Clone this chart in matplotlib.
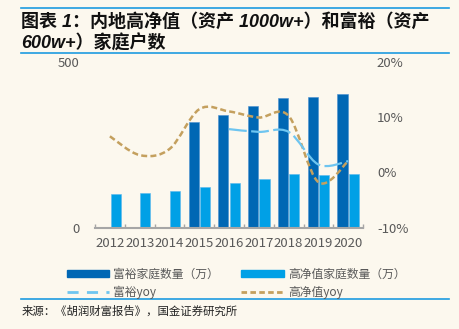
import numpy as np
import matplotlib
matplotlib.use('Agg')
import matplotlib.pyplot as plt
from matplotlib.path import Path
from matplotlib.patches import PathPatch, Patch
from matplotlib.lines import Line2D

plt.rcParams['font.family'] = ['Noto Sans CJK SC', 'DejaVu Sans']
plt.rcParams['axes.unicode_minus'] = False

years = ['2012', '2013', '2014', '2015', '2016', '2017', '2018', '2019', '2020']
# 富裕家庭 (600w+), 万户; no data before 2015
wealthy = [np.nan, np.nan, np.nan, 318, 339, 365, 390, 394, 402]
# 高净值家庭 (1000w+), 万户
hnw = [102, 105, 109, 121, 134, 147, 161, 158, 161]
# yoy growth, %
wealthy_yoy = [np.nan, np.nan, np.nan, np.nan, 7.8, 7.3, 7.3, 1.4, 2.0]
hnw_yoy = [6.5, 3.1, 4.2, 11.4, 11.0, 9.9, 10.2, -1.8, 2.0]

bg = '#fcf8ee'
c_dark = '#0067b4'
c_light = '#00a0e6'
c_wyoy = '#6ec5f0'
c_hyoy = '#c4a05e'
c_text = '#595959'
c_rule = '#1d9be0'


def smooth_path(xs, ys):
    # excel-style smoothed line: cubic bezier through every point
    pts = [(x, y) for x, y in zip(xs, ys) if not np.isnan(y)]
    pts = np.array(pts, dtype=float)
    n = len(pts)
    verts = [pts[0]]
    codes = [Path.MOVETO]
    for i in range(n - 1):
        p0 = pts[max(i - 1, 0)]
        p1 = pts[i]
        p2 = pts[i + 1]
        p3 = pts[min(i + 2, n - 1)]
        verts += [p1 + (p2 - p0) / 6, p2 - (p3 - p1) / 6, p2]
        codes += [Path.CURVE4] * 3
    return Path(verts, codes)


fig = plt.figure(figsize=(4.59, 3.29), dpi=100, facecolor=bg)
ax = fig.add_axes([0.207, 0.3085, 0.584, 0.504])
ax.set_facecolor('none')

x = np.arange(len(years))
w = 0.34
ax.bar(x - 0.19, wealthy, w, color=c_dark, edgecolor='#4a8fd0', linewidth=0.4)
ax.bar(x + 0.19, hnw, w, color=c_light, edgecolor='#5cb8ee', linewidth=0.4)

ax.set_xlim(-0.5, len(years) - 0.5)
ax.set_ylim(0, 500)
ax.set_yticks([0, 500])
ax.set_xticks(x)
ax.set_xticklabels(years)
ax.set_xticks(np.arange(-0.5, len(years)), minor=True)
ax.tick_params(axis='x', which='major', length=0, pad=7, labelsize=9.5, labelcolor=c_text)
ax.tick_params(axis='x', which='minor', direction='in', length=3, color='#a6a6a6', width=1)
ax.tick_params(axis='y', length=0, pad=11, labelsize=9.5, labelcolor=c_text)
for s in ['top', 'left', 'right']:
    ax.spines[s].set_visible(False)
ax.spines['bottom'].set_color('#a6a6a6')
ax.spines['bottom'].set_linewidth(1.5)

ax2 = ax.twinx()
ax2.set_ylim(-10, 20)
ax2.set_yticks([-10, 0, 10, 20])
ax2.set_yticklabels(['-10%', '0%', '10%', '20%'])
ax2.tick_params(axis='y', length=0, pad=10, labelsize=9.5, labelcolor=c_text)
for s in ax2.spines.values():
    s.set_visible(False)

ax2.add_patch(PathPatch(smooth_path(x, hnw_yoy), fill=False, edgecolor=c_hyoy,
                        linewidth=1.8, linestyle=(0, (2.4, 1.3))))
ax2.add_patch(PathPatch(smooth_path(x, wealthy_yoy), fill=False, edgecolor=c_wyoy,
                        linewidth=1.6, linestyle=(0, (8, 2))))

handles = [Patch(color=c_dark), Line2D([], [], color=c_wyoy, lw=2, ls=(0, (4, 3))),
           Patch(color=c_light), Line2D([], [], color=c_hyoy, lw=2, ls=(0, (2, 1.2)))]
labels = ['富裕家庭数量（万）', '富裕yoy', '高净值家庭数量（万）', '高净值yoy']
leg = fig.legend(handles, labels, ncol=2, loc='upper left', bbox_to_anchor=(0.145, 0.187),
                 frameon=False, fontsize=8.5, handlelength=3.6, handleheight=0.55,
                 handletextpad=0.35, columnspacing=1.9, labelspacing=0.45,
                 borderaxespad=0, borderpad=0)
for t in leg.get_texts():
    t.set_color(c_text)

# title block and rules
title_font = dict(family=['Liberation Sans', 'Noto Sans CJK SC'], style='italic',
                  fontweight='bold', fontsize=13, color='#111111', va='center')
fig.text(0.046, 0.935, '图表 1：内地高净值（资产 1000w+）和富裕（资产', **title_font)
fig.text(0.046, 0.868, '600w+）家庭户数', **title_font)
for yy in [1 - 8 / 329, 1 - 52.5 / 329, 1 - 299 / 329]:
    fig.add_artist(Line2D([21 / 459, 449 / 459], [yy, yy], color=c_rule, lw=1.2))
fig.text(0.046, 1 - 311 / 329, '来源：《胡润财富报告》，国金证券研究所', fontsize=8.2,
         color='#222222', va='center')

fig.savefig('out.png', dpi=100, facecolor=bg)
